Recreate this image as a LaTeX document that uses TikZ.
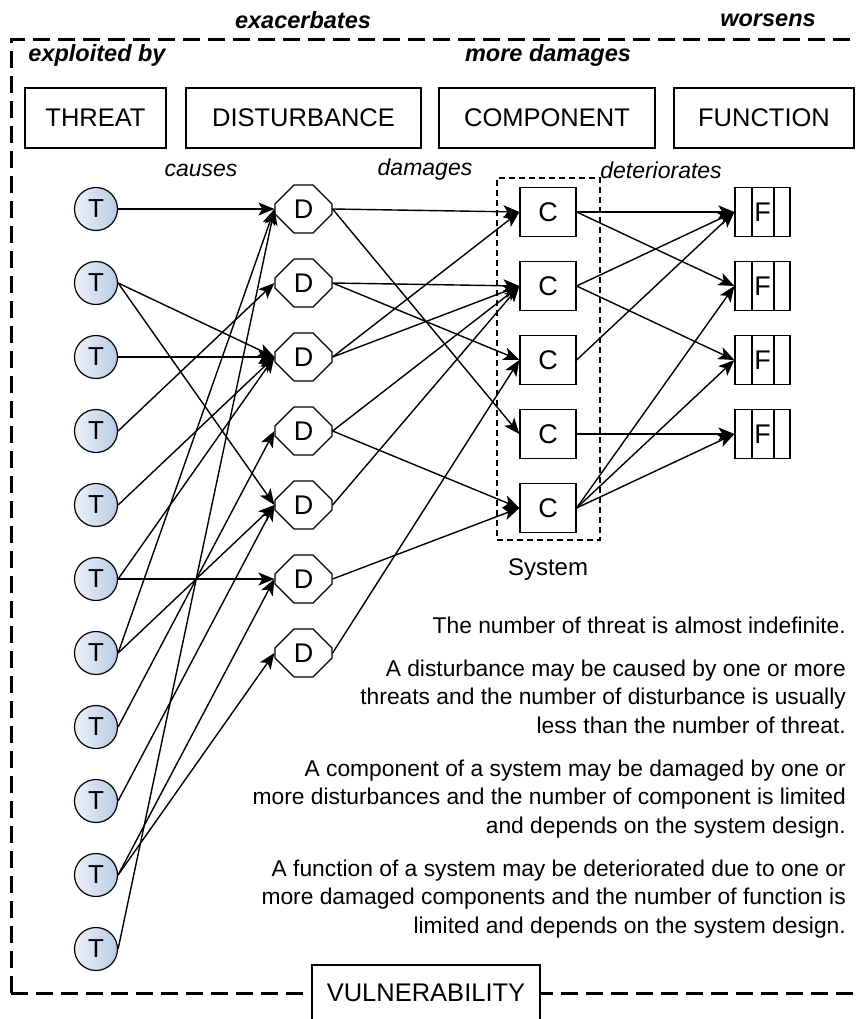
\documentclass[tikz,border=0pt]{standalone}
\usepackage{fontspec}
\setmainfont{Liberation Sans}
\usetikzlibrary{arrows.meta,shapes.misc}

\definecolor{tlight}{RGB}{236,241,248}
\definecolor{tdark}{RGB}{184,203,228}

\begin{document}
\begin{tikzpicture}[x=1pt,y=-1pt,
  every node/.style={inner sep=0pt},
  head/.style={draw, line width=1.4pt, minimum height=60pt,
    font=\fontsize{25.5}{30}\selectfont},
  lbl/.style={font=\fontsize{23.5}{28}\selectfont\bfseries\itshape},
  rel/.style={font=\fontsize{23}{28}\selectfont\itshape},
  threat/.style={circle, draw, line width=1.2pt, minimum size=43pt,
    left color=tlight, right color=tdark, font=\fontsize{26}{28}\selectfont},
  dist/.style={chamfered rectangle, chamfered rectangle xsep=16pt,
    chamfered rectangle ysep=15pt, draw, line width=1.2pt,
    minimum width=57pt, minimum height=48pt, font=\fontsize{27}{30}\selectfont},
  comp/.style={rectangle, draw, line width=1.2pt, minimum width=56pt,
    minimum height=49pt, font=\fontsize{27}{30}\selectfont},
  func/.style={rectangle, draw, line width=1.2pt, minimum width=55pt,
    minimum height=49pt, font=\fontsize{27}{30}\selectfont,
    path picture={\draw[line width=1.2pt]
      ([xshift=17pt]path picture bounding box.north west) --
      ([xshift=17pt]path picture bounding box.south west)
      ([xshift=-16pt]path picture bounding box.north east) --
      ([xshift=-16pt]path picture bounding box.south east);}},
  conn/.style={line width=1.4pt, -{Stealth[length=16pt,width=13pt,inset=4pt]}},
  note/.style={anchor=base east, font=\fontsize{22.8}{28}\selectfont},
  frame/.style={line width=3pt, dash pattern=on 17pt off 8pt},
]
\useasboundingbox (0,0) rectangle (856,1019);

% outer vulnerability frame
\draw[frame] (11,993) -- (11,40) -- (880,40);
\draw[frame] (11,993) -- (880,993);
\node[draw, fill=white, line width=1.4pt, minimum width=228pt, minimum height=56pt,
  font=\fontsize{25.5}{30}\selectfont] (vuln) at (426,993) {VULNERABILITY};

% relation labels between the categories
\node[lbl] (exa) at (303,20) {exacerbates};
\node[lbl] (wor) at (768,20) {worsens};
\node[lbl] (exp) at (97,55) {exploited by};
\node[lbl] (mor) at (548,55) {more damages};

% category headers
\node[head, minimum width=141pt] (hthreat) at (95.5,118) {THREAT};
\node[head, minimum width=235pt] (hdist) at (303.5,118) {DISTURBANCE};
\node[head, minimum width=216pt] (hcomp) at (547,118) {COMPONENT};
\node[head, minimum width=180pt] (hfunc) at (764,118) {FUNCTION};

\node[rel] (lcau) at (201,170) {causes};
\node[rel] (ldam) at (425,170) {damages};
\node[rel] (ldet) at (661,170) {deteriorates};

% system boundary
\node[draw, line width=1.2pt, dash pattern=on 6pt off 4pt,
  minimum width=103pt, minimum height=362pt] (sys) at (548.5,359) {};
\node[font=\fontsize{24}{28}\selectfont] (syslbl) at (548,570) {System};

% threats, disturbances, components, functions
\foreach \i in {1,...,11}
  \node[threat] (T\i) at (96,{209+74*(\i-1)}) {T};
\foreach \i in {1,...,7}
  \node[dist] (D\i) at (303.5,{209+74*(\i-1)}) {D};
\foreach \i in {1,...,5}
  \node[comp] (C\i) at (548,{212+74*(\i-1)}) {C};
\foreach \i in {1,...,4}
  \node[func] (F\i) at (762.5,{212+74*(\i-1)}) {F};

% causes
\foreach \a/\b in {1/1,2/3,2/5,3/3,4/2,5/3,6/3,6/6,7/1,7/5,8/4,9/5,10/6,10/7,11/1}
  \draw[conn] (T\a.east) -- (D\b.west);
% damages
\foreach \a/\b in {1/1,1/4,2/2,2/3,3/1,3/2,4/2,4/5,5/2,6/5,7/3}
  \draw[conn] (D\a.east) -- (C\b.west);
% deteriorates
\foreach \a/\b in {1/1,1/2,2/1,2/3,3/1,4/4,5/2,5/3,5/4}
  \draw[conn] (C\a.east) -- (F\b.west);

% explanatory notes
\node[note] (n1) at (846,633) {The number of threat is almost indefinite.};
\node[note] (n2a) at (846,676) {A disturbance may be caused by one or more};
\node[note] (n2b) at (846,704) {threats and the number of disturbance is usually\ };
\node[note] (n2c) at (846,733) {less than the number of threat.};
\node[note] (n3a) at (846,776) {A component of a system may be damaged by one or};
\node[note] (n3b) at (846,804) {more disturbances and the number of component is limited};
\node[note] (n3c) at (846,833) {and depends on the system design.};
\node[note] (n4a) at (846,876) {A function of a system may be deteriorated due to one or\ };
\node[note] (n4b) at (846,904) {more damaged components and the number of function is};
\node[note] (n4c) at (846,933) {limited and depends on the system design.};
\end{tikzpicture}
\end{document}
